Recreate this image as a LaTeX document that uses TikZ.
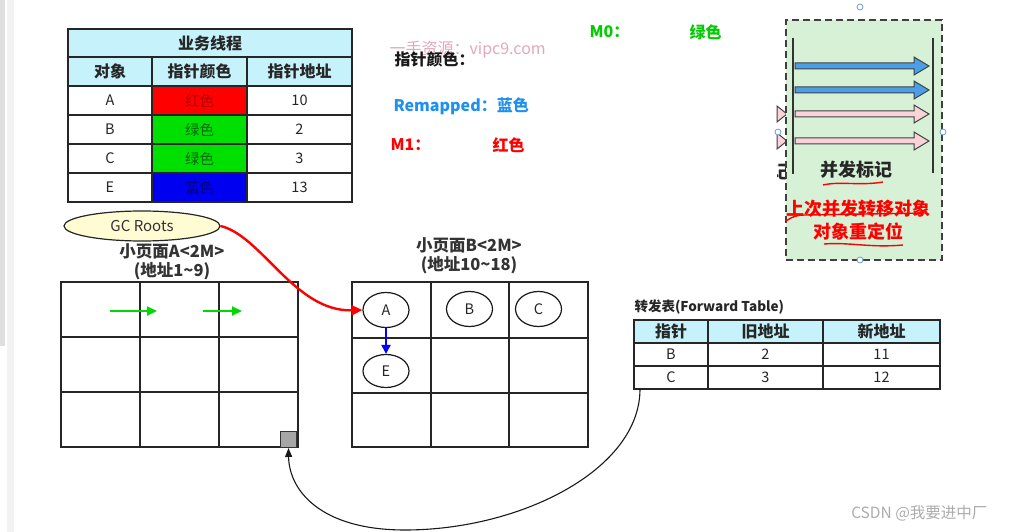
\documentclass[tikz,border=0pt]{standalone}
\usepackage{fontspec}
\setmainfont{Noto Sans CJK SC}
\usetikzlibrary{arrows.meta,shapes.geometric}
\definecolor{hdr}{HTML}{C6F3FB}
\definecolor{cred}{HTML}{FF0000}
\definecolor{cgreen}{HTML}{00E000}
\definecolor{cblue}{HTML}{0000F0}
\definecolor{gcy}{HTML}{FFFBD2}
\definecolor{pgreen}{HTML}{D6F1D6}
\definecolor{ablue}{HTML}{4A9FE8}
\definecolor{apink}{HTML}{FAD3D8}
\definecolor{wmc}{HTML}{E2A8BE}
\definecolor{rmblue}{HTML}{1E90F0}
\definecolor{mgreen}{HTML}{00CC00}
\definecolor{hblue}{HTML}{6A9ED8}
\tikzset{
  cell/.style={draw=black!85, line width=1.3pt, minimum height=29pt, inner sep=0pt, font=\fontsize{14.5}{14.5}\selectfont, text=black!85},
  hcell/.style={cell, fill=hdr, font=\bfseries\fontsize{16}{16}\selectfont},
  fcell/.style={cell, minimum height=23pt, font=\fontsize{14.5}{14.5}\selectfont},
  fhcell/.style={hcell, minimum height=23pt},
  page/.style={draw=black!85, line width=1.4pt, minimum width=237pt, minimum height=165pt, inner sep=0pt},
  gline/.style={draw=black!85, line width=1.4pt},
  obj/.style={ellipse, draw=black!90, line width=1.2pt, minimum width=46pt, minimum height=35pt, inner sep=0pt, font=\fontsize{14.5}{14.5}\selectfont, text=black!85},
  blk/.style={draw=black!75, line width=1pt},
  handle/.style={circle, draw=hblue, fill=white, line width=0.8pt, minimum size=6pt, inner sep=0pt},
  lbl/.style={font=\bfseries\fontsize{16}{16}\selectfont, anchor=west},
  rul/.style={red, line width=1.4pt},
}
\newcommand\blkarrow[3]{%
  \filldraw[blk, fill=#3] (795,#1-3) -- (#2-15,#1-3) -- (#2-15,#1-9) -- (#2,#1) -- (#2-15,#1+9) -- (#2-15,#1+3) -- (795,#1+3) -- cycle;}
\begin{document}
\begin{tikzpicture}[x=1pt,y=-1pt]
\useasboundingbox (0,0) rectangle (1010,532);
\fill[white] (0,0) rectangle (1010,532);
% left edge bars
\fill[gray!25] (0,0) rectangle (5,346);
\fill[gray!10] (7,0) rectangle (14,532);

% ---------- table 1
\node[hcell, minimum width=284pt, minimum height=28pt] (t1title) at (210,43) {业务线程};
\node[hcell, minimum width=84pt] (t1h1) at (110,71.5) {对象};
\node[hcell, minimum width=95pt] (t1h2) at (199.5,71.5) {指针颜色};
\node[hcell, minimum width=105pt] (t1h3) at (299.5,71.5) {指针地址};
\node[cell, minimum width=84pt] (a1) at (110,100.5) {A};
\node[cell, minimum width=95pt, fill=cred, text=red!70!black] (a2) at (199.5,100.5) {红色};
\node[cell, minimum width=105pt] (a3) at (299.5,100.5) {10};
\node[cell, minimum width=84pt] (b1) at (110,129.5) {B};
\node[cell, minimum width=95pt, fill=cgreen, text=green!40!black] (b2) at (199.5,129.5) {绿色};
\node[cell, minimum width=105pt] (b3) at (299.5,129.5) {2};
\node[cell, minimum width=84pt] (c1) at (110,158.5) {C};
\node[cell, minimum width=95pt, fill=cgreen, text=green!40!black] (c2) at (199.5,158.5) {绿色};
\node[cell, minimum width=105pt] (c3) at (299.5,158.5) {3};
\node[cell, minimum width=84pt] (e1) at (110,187.5) {E};
\node[cell, minimum width=95pt, fill=cblue, text=blue!45!black] (e2) at (199.5,187.5) {蓝色};
\node[cell, minimum width=105pt] (e3) at (299.5,187.5) {13};

% ---------- legend texts
\node[text=wmc, font=\fontsize{16}{16}\selectfont, anchor=west] (wm) at (386,50) {一手资源：vipc9.com};
\node[lbl, text=black!90] (ptrc) at (391,59) {指针颜色：};
\node[lbl, text=rmblue] (remap) at (390,106) {Remapped：蓝色};
\node[lbl, text=red] (m1) at (387,145) {M1：};
\node[lbl, text=red] (m1c) at (489,145) {红色};
\node[lbl, text=mgreen] (m0) at (586,32) {M0：};
\node[lbl, text=mgreen] (m0c) at (686,32) {绿色};

% ---------- right panel
\filldraw[blk, fill=apink] (777,106) -- (787,114) -- (777,122) -- cycle;
\filldraw[blk, fill=apink] (777,133) -- (787,141) -- (777,149) -- cycle;
\begin{scope}
\clip (777,158) rectangle (786,186);
\node[font=\bfseries\fontsize{18}{18}\selectfont, text=black!85] (ji) at (780,172) {记};
\end{scope}
\node[draw=black!75, dash pattern=on 7pt off 4pt, line width=1.6pt, fill=pgreen, minimum width=156pt, minimum height=240pt, inner sep=0pt] (panel) at (864,140) {};
\draw[line width=1.8pt, black!80] (793,38) -- (793,174);
\draw[line width=1.8pt, black!80] (933,38) -- (933,173);
\blkarrow{66}{929}{ablue}
\blkarrow{90}{929}{ablue}
\blkarrow{114}{929}{apink}
\blkarrow{141}{929}{apink}
\node[font=\bfseries\fontsize{18}{18}\selectfont, text=black!85] (bfbj) at (856,170) {并发标记};
\node[font=\bfseries\fontsize{18}{18}\selectfont, text=red] (sczy) at (858,209) {上次并发转移对象};
\node[font=\bfseries\fontsize{18}{18}\selectfont, text=red] (dxcd) at (858,231) {对象重定位};
\draw[rul] (823,185) .. controls (840,181) and (860,186) .. (883,182);
\draw[rul] (786,221) .. controls (792,217) and (796,215) .. (805,215) -- (926,213);
\draw[rul] (824,244) .. controls (850,242) and (870,248) .. (903,245);
\node[handle] (h1) at (860,7) {};
\node[handle] (h2) at (778,132) {};
\node[handle] (h3) at (943,132) {};
\node[handle] (h4) at (860,260) {};

% ---------- GC roots
\node[ellipse, draw=black!85, line width=1.2pt, fill=gcy, minimum width=156pt, minimum height=30pt, inner sep=0pt, font=\fontsize{15}{15}\selectfont, text=black!80] (gc) at (142,226) {GC Roots};

% ---------- page A
\node[font=\bfseries\fontsize{16.5}{19}\selectfont, align=center, text=black!80] (labA) at (172,262) {小页面A<2M>\\(地址1\textasciitilde 9)};
\node[page] (pageA) at (179.5,364.5) {};
\draw[gline] (140,282) -- (140,447) (219,282) -- (219,447) (61,337) -- (298,337) (61,392) -- (298,392);
\coordinate (g1s) at (110,311);
\coordinate (g1e) at (157,311);
\coordinate (g2s) at (203,311);
\coordinate (g2e) at (242,311);
\draw[green!85!black, line width=2pt, -{Triangle[length=10pt,width=9pt]}] (g1s) -- (g1e);
\draw[green!85!black, line width=2pt, -{Triangle[length=10pt,width=9pt]}] (g2s) -- (g2e);
\node[draw=black!80, fill=gray!70, line width=1pt, minimum size=16pt, inner sep=0pt] (sq) at (288.5,439.5) {};

% ---------- page B
\node[font=\bfseries\fontsize{16.5}{19}\selectfont, align=center, text=black!80] (labB) at (469,256) {小页面B<2M>\\(地址10\textasciitilde 18)};
\node[page, minimum width=236pt] (pageB) at (470,364.5) {};
\draw[gline] (431,282) -- (431,447) (509,282) -- (509,447) (352,338) -- (588,338) (352,393) -- (588,393);
\node[obj] (A) at (386,310) {A};
\node[obj] (B) at (469.5,309) {B};
\node[obj] (C) at (538.5,309) {C};
\node[obj, minimum height=33pt] (E) at (386,371) {E};
\draw[blue, line width=2pt, -{Triangle[length=9pt,width=9pt]}] (A.south) -- (E.north);
\draw[red, line width=2.4pt, -{Triangle[length=11pt,width=10pt]}] (gc.east) .. controls (262,236) and (295,312) .. (A.west);

% ---------- forward table
\node[font=\bfseries\fontsize{13.5}{13.5}\selectfont, anchor=west, text=black!85] (ftt) at (631,307) {转发表(Forward Table)};
\node[fhcell, minimum width=74pt] (fh1) at (671,331.5) {指针};
\node[fhcell, minimum width=115pt] (fh2) at (765.5,331.5) {旧地址};
\node[fhcell, minimum width=117pt] (fh3) at (881.5,331.5) {新地址};
\node[fcell, minimum width=74pt] (fb1) at (671,354.5) {B};
\node[fcell, minimum width=115pt] (fb2) at (765.5,354.5) {2};
\node[fcell, minimum width=117pt] (fb3) at (881.5,354.5) {11};
\node[fcell, minimum width=74pt] (fc1) at (671,377.5) {C};
\node[fcell, minimum width=115pt] (fc2) at (765.5,377.5) {3};
\node[fcell, minimum width=117pt] (fc3) at (881.5,377.5) {12};
\coordinate (fts) at (640,389);
\draw[black!90, line width=1.1pt, -{Triangle[length=9pt,width=7pt]}] (fts) .. controls (640,470) and (520,530) .. (405,530) .. controls (320,530) and (289,490) .. (sq.south);

% ---------- watermark
\node[text=gray!65, font=\fontsize{15.5}{15.5}\selectfont, anchor=east] (csdn) at (991,513) {CSDN @我要进中厂};
\end{tikzpicture}
\end{document}
